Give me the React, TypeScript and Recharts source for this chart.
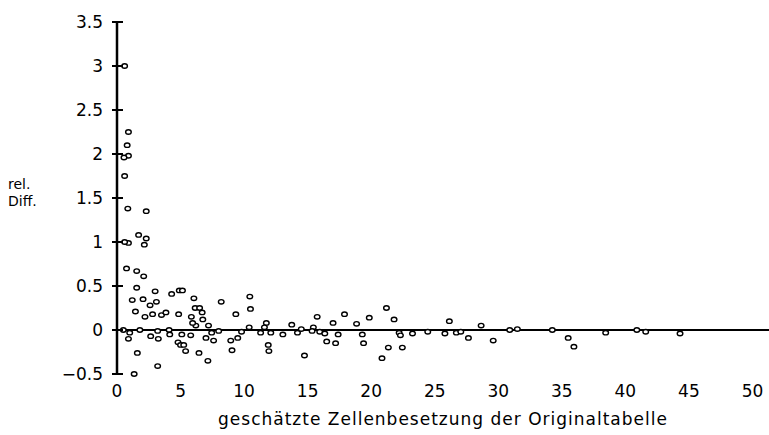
import { ScatterChart, Scatter, XAxis, YAxis, ReferenceLine } from "recharts"

// geschätzte Zellenbesetzung (x) und relative Differenz (y)
const besetzung = [
    0.6, 0.9, 0.8, 0.9, 0.55, 0.6, 0.85, 2.3, 1.7, 2.3, 2.15, 0.9, 0.6, 0.75, 1.55, 2.1,
    1.55, 3.0, 4.3, 4.9, 5.15, 1.2, 2.05, 3.1, 2.6, 6.05, 1.45, 2.2, 2.8, 3.5, 3.85, 4.85,
    6.15, 6.5, 6.7, 5.85, 6.75, 6.2, 5.95, 0.5, 1.0, 1.8, 3.2, 4.1, 0.9, 2.65, 3.25, 4.15,
    5.1, 5.8, 7.0, 4.8, 5.0, 5.25, 5.4, 1.6, 6.45, 7.15, 3.2, 1.35, 8.2, 10.45, 10.5, 9.35,
    7.2, 8.0, 7.45, 7.6, 8.95, 9.5, 9.8, 10.4, 9.05, 11.3, 11.75, 11.6, 12.1, 11.9, 11.95,
    13.05, 13.75, 14.2, 14.5, 14.75, 15.45, 15.35, 15.75, 15.95, 16.35, 16.5, 17.0, 17.4,
    17.2, 17.9, 18.85, 19.3, 19.4, 19.85, 20.85, 21.2, 21.35, 21.8, 22.2, 22.3, 22.45,
    23.25, 24.45, 25.8, 26.15, 26.7, 27.05, 27.65, 28.65, 29.6, 30.9, 31.5, 34.25, 35.5,
    35.95, 38.45, 40.9, 41.6, 44.3,
]
const relDiff = [
    3.0, 2.25, 2.1, 1.98, 1.96, 1.75, 1.38, 1.35, 1.08, 1.04, 0.97, 0.99, 1.0, 0.7, 0.67, 0.61,
    0.48, 0.44, 0.41, 0.45, 0.45, 0.34, 0.35, 0.32, 0.28, 0.36, 0.21, 0.15, 0.18, 0.17, 0.2, 0.18,
    0.25, 0.25, 0.2, 0.15, 0.12, 0.05, 0.08, 0.0, -0.03, 0.0, -0.01, 0.0, -0.1, -0.07, -0.1, -0.05,
    -0.05, -0.06, -0.09, -0.14, -0.17, -0.17, -0.24, -0.26, -0.26, -0.35, -0.41, -0.5, 0.32, 0.38, 0.24, 0.18,
    0.05, -0.01, -0.03, -0.12, -0.12, -0.09, -0.02, 0.03, -0.23, -0.03, 0.08, 0.03, -0.03, -0.17, -0.24,
    -0.05, 0.06, -0.03, 0.01, -0.29, 0.03, -0.01, 0.15, -0.02, -0.04, -0.13, 0.08, -0.05,
    -0.15, 0.18, 0.07, -0.05, -0.15, 0.14, -0.32, 0.25, -0.2, 0.12, -0.03, -0.06, -0.2,
    -0.04, -0.02, -0.04, 0.1, -0.03, -0.02, -0.09, 0.05, -0.12, 0.0, 0.01, 0.0, -0.09,
    -0.19, -0.03, 0.0, -0.02, -0.04,
]
const xTicks = [0, 5, 10, 15, 20, 25, 30, 35, 40, 45, 50]
const yTicks = [-0.5, 0, 0.5, 1, 1.5, 2, 2.5, 3, 3.5]

const punkte = besetzung.map((x, i) => ({ x, y: relDiff[i] }))

const font = "'DejaVu Sans', sans-serif"

const fmtY = (v: number) => (v < 0 ? "\u2212" + String(-v) : String(v))

function Kringel(props: any) {
    if (props.cx == null || props.cy == null) return null
    return <ellipse cx={props.cx} cy={props.cy} rx={2.8} ry={2.2} fill="#fff" stroke="#000" strokeWidth={1.4} />
}

// Strich links und rechts der y-Achse, wie im Original
function YTick(props: any) {
    const { x, y, payload } = props
    return (
        <g>
            <line x1={x + 9} x2={x + 20} y1={y} y2={y} stroke="#000" strokeWidth={2} />
            <text x={x} y={y} dy="0.36em" textAnchor="end" fill="#000" fontSize={17} fontFamily={font}>
                {fmtY(payload.value)}
            </text>
        </g>
    )
}

export default function App() {
    return (
        <div style={{ position: "absolute", left: 0, top: 0, width: 769, height: 435, background: "#fff", fontFamily: font }}>
            <ScatterChart width={769} height={435} margin={{ top: 22, right: 0, bottom: 0, left: 0 }}>
                <XAxis
                    type="number"
                    dataKey="x"
                    domain={[0, 51.3]}
                    ticks={xTicks}
                    axisLine={false}
                    tickLine={false}
                    height={61}
                    tickMargin={5}
                    tick={{ fill: "#000", fontSize: 17, fontFamily: font }}
                    label={{ value: "geschätzte Zellenbesetzung der Originaltabelle", position: "insideBottom", offset: 10, fill: "#000", fontSize: 17, fontFamily: font, letterSpacing: 1 }}
                />
                <YAxis
                    type="number"
                    dataKey="y"
                    domain={[-0.5, 3.5]}
                    ticks={yTicks}
                    width={117}
                    axisLine={{ stroke: "#000", strokeWidth: 2.5 }}
                    tickLine={false}
                    tickSize={0}
                    tickMargin={14}
                    tick={<YTick />}
                />
                <ReferenceLine y={0} stroke="#000" strokeWidth={2.2} />
                <Scatter data={punkte} shape={Kringel} isAnimationActive={false} />
            </ScatterChart>
            <div style={{ position: "absolute", left: 8, top: 176, fontSize: 14, lineHeight: "16px", color: "#000" }}>rel.</div>
            <div style={{ position: "absolute", left: 8, top: 193, fontSize: 14, lineHeight: "16px", color: "#000" }}>Diff.</div>
        </div>
    )
}
